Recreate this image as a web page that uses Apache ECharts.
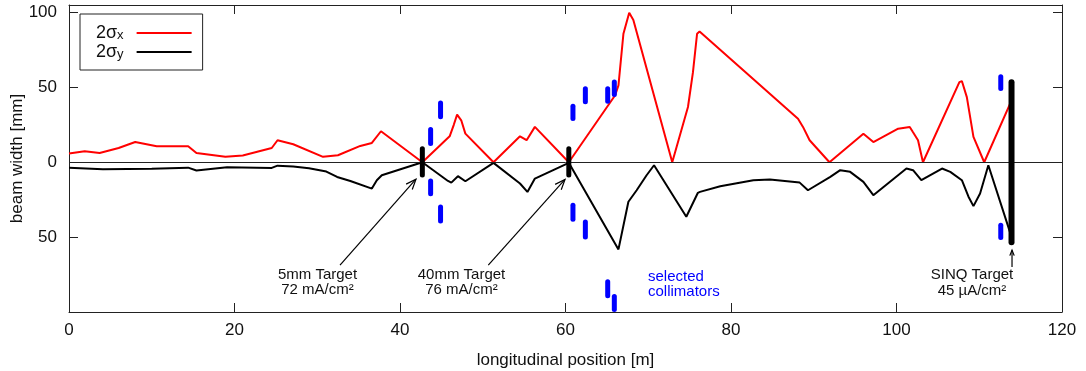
<!DOCTYPE html>
<html><head><meta charset="utf-8">
<script src="https://cdn.jsdelivr.net/npm/echarts@6/dist/echarts.min.js"></script>
<style>html,body{margin:0;padding:0;background:#fff}#c{width:1086px;height:371px}</style>
</head><body><div id="c"></div>
<script>
// 2σx (horizontal beam width, plotted upward) [position m, width mm]
const sigmaX = [[0,5.8],[1.9,7.3],[3.7,6.2],[6,9.5],[8.0,13.5],[10.6,10.7],[14.4,10.7],[15.4,6.2],[18.9,3.6],[21,4.5],
  [24.5,9.5],[25.2,14.7],[27.1,12],[30.7,3.6],[32.5,4.7],[35.2,10.9],[36.6,12.9],[37.7,20.7],[42.7,0],[46.0,17.3],
  [46.5,25],[46.9,31.8],[47.4,28],[47.9,19.1],[51.3,0],[54.5,17.3],[55.3,14.7],[56.3,23.6],[60.4,0],[66.0,44.7],
  [66.4,51.3],[67.0,85.8],[67.7,99.8],[68.2,95],[72.9,0],[74.8,36.9],[75.4,60],[75.9,85.8],[76.2,87.3],[88.1,29.1],
  [88.7,23.6],[89.5,14.7],[91.9,0],[96.0,19.1],[97.2,13.5],[100.2,22.4],[101.6,23.6],[102.0,20],[102.6,14.7],[103.2,0],
  [107.6,53.5],[107.9,54.2],[108.5,43.5],[109.3,16.9],[110.6,0],[114.0,42.5]];
// 2σy (vertical beam width, plotted downward)
const sigmaY = [[0,-3.6],[4.1,-4.7],[10,-4.3],[14.4,-3.6],[15.4,-5.5],[19.1,-3.4],[24.5,-3.8],[25.2,-2.3],[27.1,-2.9],
  [29,-4],[31.1,-6.2],[32.4,-9.8],[34,-12.5],[36.6,-17.6],[37.2,-12],[37.8,-8.7],[42.7,0],[45.8,-12.5],[46.2,-13.6],
  [47.0,-9.3],[47.9,-12.7],[51.3,-0.4],[54.5,-14.2],[55.4,-19.8],[56.3,-10.9],[60.4,-0.4],[66.4,-58.2],[67.6,-26.4],
  [68.6,-18.7],[69.8,-8.7],[70.7,-2],[74.6,-36.4],[76.0,-20.4],[76.25,-19.8],[78.7,-16],[82.7,-12],[84.7,-11.6],
  [88.3,-13.6],[89.3,-18.7],[92.0,-9.8],[93.2,-5.3],[94.4,-6.4],[96.0,-13.1],[97.2,-22],[101.2,-4.2],[102.0,-5.3],
  [103.0,-12],[105.5,-4.2],[106.5,-6.4],[107.9,-12],[108.7,-23],[109.3,-29.3],[110.1,-20.9],[111.1,-2],[113.9,-49.8]];
// selected collimators [position m, top mm, bottom mm]
const collimators = [[43.7,23.5,10.9],[44.9,41.3,28.7],[60.9,39.1,27.5],[62.4,50.7,38.7],[65.1,50.7,39.1],[65.9,55.3,43.5],
  [112.6,58.7,47.5],
  [43.7,-10.9,-22.7],[44.9,-28.2,-40.9],[60.9,-27.1,-39.8],[62.4,-38.2,-51.6],[65.1,-78.2,-90.9],[65.9,-88,-100],
  [112.6,-40.4,-52]];
// targets [position m, top mm, bottom mm]
const targets = [[42.7,10.7,-10.2],[60.4,10.7,-10.2],[113.9,55.5,-55.5]];
const targetLabels = [[30.03,-80.3,'5mm Target','72 mA/cm²'],[47.43,-80.3,'40mm Target','76 mA/cm²'],[109.12,-80.4,'SINQ Target','45 µA/cm²']];
const arrows = [[32.75,-68.7,41.93,-11.3],[50.67,-68.7,59.94,-11.5],[113.96,-70,113.96,-58.7]];
const collimatorLabel = [[69.97,-81.7,'selected','collimators']];

const FONT = "'Liberation Sans', Arial, Helvetica, sans-serif";
const TXT = '#111';
const chart = echarts.init(document.getElementById('c'));

function vbar(color, w) {
  return function (params, api) {
    const p1 = api.coord([api.value(0), api.value(1)]);
    const p2 = api.coord([api.value(0), api.value(2)]);
    const top = Math.min(p1[1], p2[1]), h = Math.abs(p2[1] - p1[1]);
    return {type: 'rect', shape: {x: p1[0] - w / 2, y: top, width: w, height: h, r: w / 2}, style: {fill: color}};
  };
}
const yFmt = v => (v % 50 === 0 && v > -100 && v <= 100) ? String(Math.abs(v)) : '';
const axisLineStyle = {color: '#222', width: 1};

chart.setOption({
  animation: false,
  backgroundColor: '#fff',
  textStyle: {fontFamily: FONT},
  grid: {left: 69, right: 24, top: 5, bottom: 59, containLabel: false, outerBoundsMode: 'none'},
  legend: {
    data: [{name: '2σx', icon: 'rect'}, {name: '2σy', icon: 'rect'}], orient: 'vertical', left: 80, top: 14, align: 'right',
    itemWidth: 55, itemHeight: 2, itemGap: 1, padding: [10, 11, 9, 16],
    borderColor: '#222', borderWidth: 1, selectedMode: false,
    formatter: n => n === '2σx' ? '{m|2σ}{s|x}' : '{m|2σ}{s|y}',
    textStyle: {color: TXT, fontSize: 17, fontFamily: FONT,
      rich: {m: {fontSize: 18, lineHeight: 18, color: TXT, fontFamily: FONT},
             s: {fontSize: 13, lineHeight: 6, verticalAlign: 'bottom', color: TXT, fontFamily: FONT, padding: [0, 8, 0, 0]}}}
  },
  xAxis: [
    {type: 'value', position: 'bottom', min: 0, max: 120, interval: 20,
     axisLine: {onZero: false, lineStyle: axisLineStyle},
     axisTick: {inside: true, length: 9, lineStyle: axisLineStyle},
     axisLabel: {fontSize: 17, color: TXT, margin: 10, fontFamily: FONT},
     splitLine: {show: false},
     name: 'longitudinal position [m]', nameLocation: 'middle', nameGap: 40, nameMoveOverlap: false,
     nameTextStyle: {fontSize: 17, color: TXT, fontFamily: FONT}},
    {type: 'value', position: 'top', min: 0, max: 120, interval: 20,
     axisLine: {onZero: false, lineStyle: axisLineStyle},
     axisTick: {inside: true, length: 9, lineStyle: axisLineStyle},
     axisLabel: {show: false}, splitLine: {show: false}}
  ],
  yAxis: [
    {type: 'value', position: 'left', min: -100, max: 105, interval: 50,
     axisLine: {onZero: false, lineStyle: axisLineStyle},
     axisTick: {inside: true, length: 9, lineStyle: axisLineStyle},
     axisLabel: {fontSize: 17, color: TXT, margin: 12, formatter: yFmt, fontFamily: FONT, showMaxLabel: false},
     splitLine: {show: false},
     name: 'beam width [mm]', nameLocation: 'middle', nameGap: 43, nameMoveOverlap: false,
     nameTextStyle: {fontSize: 17, color: TXT, fontFamily: FONT}},
    {type: 'value', position: 'right', min: -100, max: 105, interval: 50,
     axisLine: {onZero: false, lineStyle: axisLineStyle},
     axisTick: {inside: true, length: 9, lineStyle: axisLineStyle},
     axisLabel: {show: false}, splitLine: {show: false}}
  ],
  series: [
    {name: '2σx', type: 'line', data: sigmaX, symbol: 'none', color: '#ff0000',
     lineStyle: {color: '#ff0000', width: 2}, z: 3,
     markLine: {silent: true, symbol: 'none', label: {show: false},
                lineStyle: {color: '#222', width: 1, type: 'solid'}, data: [{yAxis: 0}]}},
    {name: '2σy', type: 'line', data: sigmaY, symbol: 'none', color: '#000',
     lineStyle: {color: '#000', width: 2}, z: 3},
    {type: 'custom', name: 'collimators', data: collimators, renderItem: vbar('#0000ff', 5), z: 5, silent: true},
    {type: 'custom', name: 'targets', data: targets.slice(0, 2), renderItem: vbar('#000', 5), z: 6, silent: true},
    {type: 'custom', name: 'sinq', data: targets.slice(2), renderItem: vbar('#000', 6), z: 6, silent: true},
    {type: 'custom', name: 'arrows', data: arrows, z: 6, silent: true, clip: false,
     renderItem: (params, api) => {
       const d = arrows[params.dataIndex];
       const p1 = api.coord([d[0], d[1]]), p2 = api.coord([d[2], d[3]]);
       const len = Math.hypot(p2[0] - p1[0], p2[1] - p1[1]);
       const L = Math.min(11, len * 0.35), a = Math.atan2(p2[1] - p1[1], p2[0] - p1[0]), s = 0.38;
       const st = {stroke: '#000', lineWidth: 1.2, fill: null};
       return {type: 'group', children: [
         {type: 'line', shape: {x1: p1[0], y1: p1[1], x2: p2[0], y2: p2[1]}, style: st},
         {type: 'polyline', shape: {points: [
           [p2[0] - L * Math.cos(a - s), p2[1] - L * Math.sin(a - s)], p2,
           [p2[0] - L * Math.cos(a + s), p2[1] - L * Math.sin(a + s)]]}, style: st}
       ]};
     }},
    {type: 'custom', name: 'targetLabels', data: targetLabels.map(d => [d[0], d[1]]), z: 7, silent: true, clip: false,
     renderItem: (params, api) => {
       const d = targetLabels[params.dataIndex];
       const p = api.coord([d[0], d[1]]);
       return {type: 'text', x: p[0], y: p[1], style: {text: d[2] + '\n' + d[3], fill: TXT, fontSize: 15,
         fontFamily: FONT, align: 'center', verticalAlign: 'middle', lineHeight: 15.5}};
     }},
    {type: 'custom', name: 'collimatorLabel', data: collimatorLabel.map(d => [d[0], d[1]]), z: 7, silent: true, clip: false,
     renderItem: (params, api) => {
       const d = collimatorLabel[params.dataIndex];
       const p = api.coord([d[0], d[1]]);
       return {type: 'text', x: p[0], y: p[1], style: {text: d[2] + '\n' + d[3], fill: '#0000ff', fontSize: 15,
         fontFamily: FONT, align: 'left', verticalAlign: 'middle', lineHeight: 15.5}};
     }}
  ]
});
</script></body></html>
